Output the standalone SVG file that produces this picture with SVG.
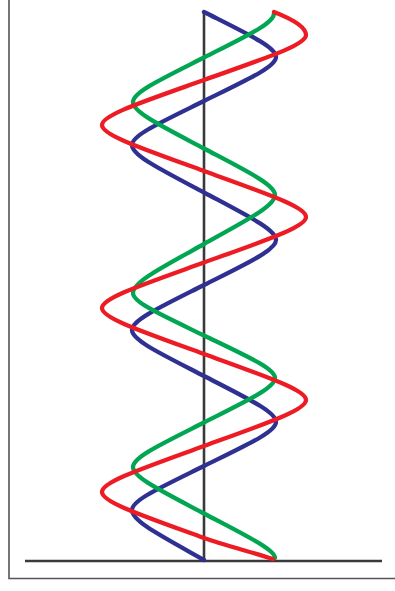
<svg xmlns="http://www.w3.org/2000/svg" width="395" height="591" viewBox="0 0 395 591">
<style>
.frame{fill:none;stroke:#555;stroke-width:1.6}
.axis{fill:none;stroke:#3a3a3a;stroke-width:2.6;stroke-linecap:butt}
.helix{fill:none;stroke-width:4.3;stroke-linecap:round;stroke-linejoin:round}
.blue{stroke:#2e3192}
.green{stroke:#00a651}
.red{stroke:#ed1c24}
</style>
<rect width="395" height="591" fill="#fff"/>
<g id="frame"><path class="frame" d="M9,0 V578.5 H396"/></g>
<g id="axes">
<path class="axis" d="M204,11 V561"/>
<path class="axis" d="M25,561 H382"/>
</g>
<g id="blue-helix">
<path class="helix blue" d="M204,12 C248.6,34.5 276,47.1 276,57
C276,66.7 248.6,79 204,101 C159.4,123 132,135.3 132,145
C132,155.5 159.4,168.8 204,192.5 C248.6,216.3 276,229.6 276,240
C276,249.9 248.6,262.5 204,285 C159.4,307.5 132,320.1 132,330
C132,340.1 159.4,353 204,376 C248.6,399 276,411.9 276,422
C276,431.7 248.6,444 204,466 C159.4,488 132,500.3 132,510
C132,521 159.4,535 204,560"/>
</g>
<g id="green-helix">
<path class="helix green" d="M274,13 C275,22.8 248,35.25 204,57.5 C160,79.75 133,92.2 133,102
C133,112.2 160,125.25 204,148.5 C248,171.75 275,184.8 275,195
C275,205.8 248,219.5 204,244 C160,268.5 133,282.2 133,293
C133,302.4 160,314.25 204,335.5 C248,356.75 275,368.7 275,378
C275,387.8 248,400.25 204,422.5 C160,444.75 133,457.2 133,467
C133,477.2 160,490.25 204,513.5 C248,536.75 275,549.8 275,558"/>
</g>
<g id="red-helix">
<path class="helix red" d="M274,12 C293.8,19.7 306,27.3 306,35
C306,44.9 267.2,57.5 204,80 C140.8,102.5 102,115.1 102,125
C102,135.1 140.8,148 204,171 C267.2,194 306,206.9 306,217
C306,227 267.2,239.75 204,262.5 C140.8,285.25 102,298 102,308
C102,318.1 140.8,331 204,354 C267.2,377 306,389.9 306,400
C306,410.1 267.2,423 204,446 C140.8,469 102,481.9 102,492
C102,502.1 140.8,515 204,538 C224.2,545.3 254.5,552.7 273,559"/>
</g>
</svg>
